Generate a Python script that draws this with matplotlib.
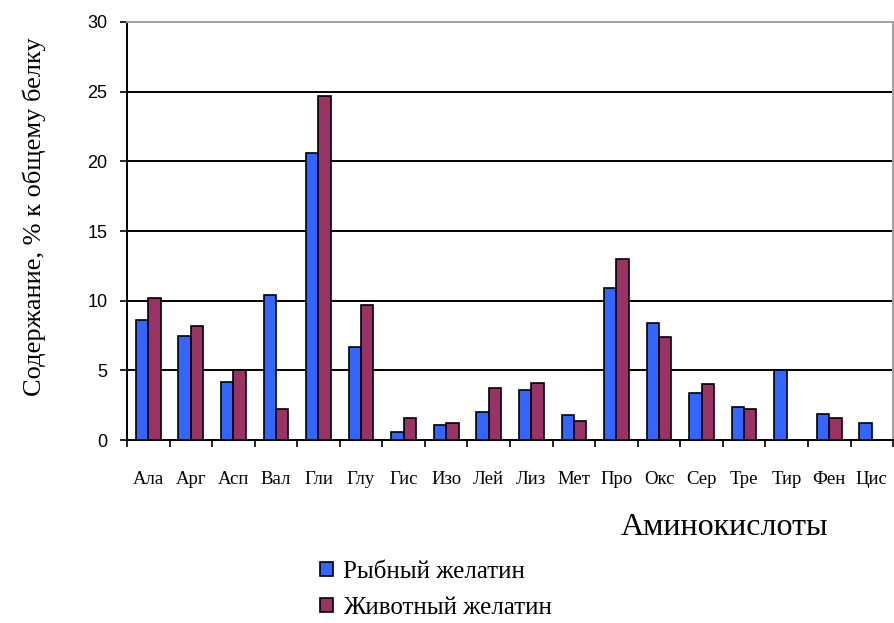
import matplotlib.pyplot as plt
import numpy as np

# Amino acid content of gelatin, % of total protein
acids = ["Ала", "Арг", "Асп", "Вал", "Гли", "Глу", "Гис", "Изо", "Лей",
         "Лиз", "Мет", "Про", "Окс", "Сер", "Тре", "Тир", "Фен", "Цис"]
fish = [8.6, 7.5, 4.2, 10.4, 20.6, 6.7, 0.6, 1.1, 2.0,
        3.6, 1.8, 10.9, 8.4, 3.4, 2.4, 5.0, 1.9, 1.2]
animal = [10.2, 8.2, 5.0, 2.2, 24.7, 9.7, 1.6, 1.2, 3.7,
          4.1, 1.4, 13.0, 7.4, 4.0, 2.2, 0.0, 1.6, 0.0]
yticks = [0, 5, 10, 15, 20, 25, 30]

plt.rcParams["font.family"] = ["Liberation Serif", "DejaVu Serif"]

fig = plt.figure(figsize=(8.94, 6.23), dpi=100)
ax = fig.add_axes([0.142, 0.2937, 0.857, 0.671])

x = np.arange(len(acids))
w = 0.29
b1 = ax.bar(x - w / 2, fish, w, color="#3366ff", edgecolor="black",
            linewidth=1.2, label="Рыбный желатин", zorder=3)
b2 = ax.bar(x + w / 2, animal, w, color="#993366", edgecolor="black",
            linewidth=1.2, label="Животный желатин", zorder=3)

ax.set_xlim(-0.5, len(acids) - 0.5)
ax.set_ylim(0, 30)
ax.set_yticks(yticks)
ax.set_yticklabels([str(v) for v in yticks], fontsize=13)
for lbl in ax.get_yticklabels():
    lbl.set_fontfamily("Liberation Sans")
ax.set_xticks(x)
ax.set_xticklabels(acids, fontsize=13.5)
ax.set_xticks(np.arange(len(acids) + 1) - 0.5, minor=True)
ax.tick_params(axis="x", which="major", length=0, pad=22)
ax.tick_params(axis="x", which="minor", length=5, width=1.2, direction="out")
ax.tick_params(axis="y", length=5, width=1.2, direction="out", pad=9)

for v in yticks[1:-1]:
    ax.axhline(v, color="black", linewidth=1.4, zorder=1)

for s in ["left", "bottom"]:
    ax.spines[s].set_color("black")
    ax.spines[s].set_linewidth(1.4)
for s in ["top", "right"]:
    ax.spines[s].set_color("#a0a0a0")
    ax.spines[s].set_linewidth(1.4)

fig.text(0.038, 0.652, "Содержание, % к общему белку", fontsize=19,
         rotation=90, ha="center", va="center")
fig.text(0.81, 0.1413, "Аминокислоты", fontsize=23, ha="center",
         va="baseline")

fig.legend(handles=[b1, b2], loc="center left", bbox_to_anchor=(0.358, 0.053),
           frameon=False, fontsize=18, handlelength=0.5, handleheight=0.5,
           handletextpad=0.4, labelspacing=0.55, borderpad=0,
           borderaxespad=0)

fig.savefig("out.png", dpi=100)
